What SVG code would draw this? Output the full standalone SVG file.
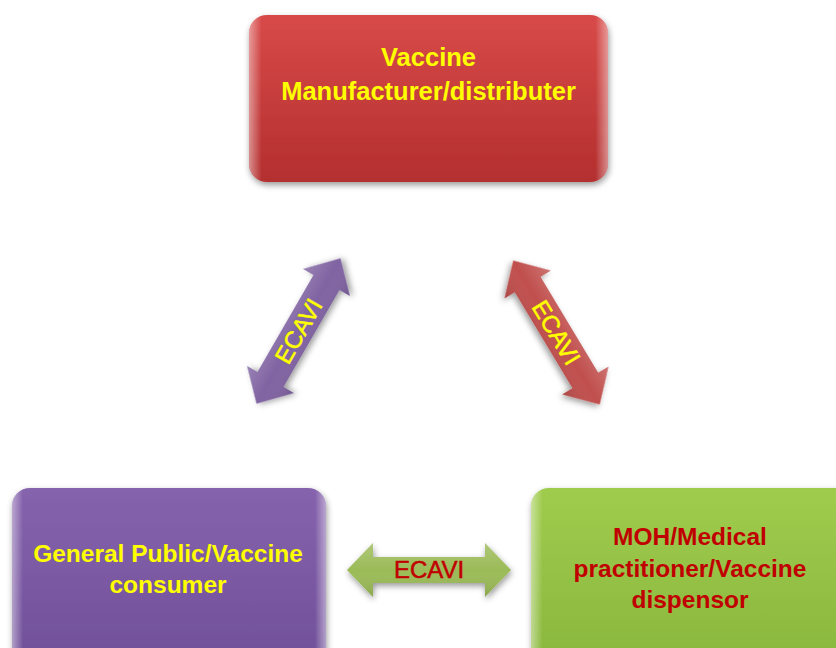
<svg xmlns="http://www.w3.org/2000/svg" width="836" height="648" viewBox="0 0 836 648">
<defs>
<filter id="sh" x="-20%" y="-20%" width="140%" height="150%">
<feDropShadow dx="1" dy="3" stdDeviation="3" flood-color="#000" flood-opacity="0.4"/>
</filter>
<linearGradient id="gRed" x1="0" y1="0" x2="0" y2="1">
<stop offset="0" stop-color="#d84a49"/><stop offset="1" stop-color="#b42f2f"/>
</linearGradient>
<linearGradient id="gPur" x1="0" y1="0" x2="0" y2="1">
<stop offset="0" stop-color="#8663ad"/><stop offset="1" stop-color="#6f4f98"/>
</linearGradient>
<linearGradient id="gGrn" x1="0" y1="0" x2="0" y2="1">
<stop offset="0" stop-color="#a0cc4e"/><stop offset="1" stop-color="#88b63c"/>
</linearGradient>
<linearGradient id="gEdge" x1="0" y1="0" x2="1" y2="0">
<stop offset="0" stop-color="#fff" stop-opacity="0.45"/>
<stop offset="0.035" stop-color="#fff" stop-opacity="0"/>
<stop offset="0.965" stop-color="#fff" stop-opacity="0"/>
<stop offset="1" stop-color="#fff" stop-opacity="0.45"/>
</linearGradient>
<linearGradient id="gArrow" x1="0" y1="0" x2="0" y2="1">
<stop offset="0" stop-color="#fff" stop-opacity="0.2"/>
<stop offset="0.5" stop-color="#fff" stop-opacity="0"/>
<stop offset="1" stop-color="#000" stop-opacity="0.12"/>
</linearGradient>
<path id="dbl" d="M-84,0 L-56,-27 L-56,-15 L56,-15 L56,-27 L84,0 L56,27 L56,15 L-56,15 L-56,27 Z"/>
<path id="dblg" d="M-82,0 L-56,-27 L-56,-13 L56,-13 L56,-27 L82,0 L56,27 L56,13 L-56,13 L-56,27 Z"/>
</defs>
<style>
.lbl{font-family:"Liberation Sans",Arial,sans-serif;font-weight:bold;text-anchor:middle}
.yel{fill:#ffff00}
.red{fill:#c00000}
.arr{font-family:"Liberation Sans",Arial,sans-serif;font-size:24px;text-anchor:middle;stroke-width:0.5}
.arr.yel{stroke:#ffff00}
.arr.red{stroke:#c00000}
.edge{fill:url(#gEdge)}
</style>

<g id="connectors">
<g id="arrow-left" transform="translate(298.5,331) rotate(-60)">
<use href="#dbl" fill="#8064a2" filter="url(#sh)"/>
<use href="#dbl" fill="url(#gArrow)"/>
<text class="arr yel" x="0" y="8.5">ECAVI</text>
</g>
<g id="arrow-right" transform="translate(556.5,332.5) rotate(59)">
<use href="#dbl" fill="#c0504d" filter="url(#sh)"/>
<use href="#dbl" fill="url(#gArrow)"/>
<text class="arr yel" x="0" y="8.5">ECAVI</text>
</g>
<g id="arrow-bottom" transform="translate(429,570)">
<use href="#dblg" fill="#9bbb59" filter="url(#sh)"/>
<use href="#dblg" fill="url(#gArrow)"/>
<text class="arr red" x="0" y="8" font-size="23">ECAVI</text>
</g>
</g>

<g id="node-manufacturer">
<rect x="249" y="15" width="359" height="167" rx="18" fill="url(#gRed)" filter="url(#sh)"/>
<rect x="249" y="15" width="359" height="167" rx="18" class="edge"/>
<text class="lbl yel" font-size="25.5" x="428.5" y="66">Vaccine</text>
<text class="lbl yel" font-size="25.5" x="428.5" y="100">Manufacturer/distributer</text>
</g>

<g id="node-public">
<rect x="12" y="488" width="314" height="185" rx="18" fill="url(#gPur)" filter="url(#sh)"/>
<rect x="12" y="488" width="314" height="185" rx="18" class="edge"/>
<text class="lbl yel" font-size="24.5" x="168" y="562">General Public/Vaccine</text>
<text class="lbl yel" font-size="24.5" x="168" y="593">consumer</text>
</g>

<g id="node-moh">
<rect x="531" y="488" width="330" height="185" rx="18" fill="url(#gGrn)" filter="url(#sh)"/>
<rect x="531" y="488" width="330" height="185" rx="18" class="edge"/>
<text class="lbl red" font-size="24.5" x="690" y="545">MOH/Medical</text>
<text class="lbl red" font-size="24.5" x="690" y="577">practitioner/Vaccine</text>
<text class="lbl red" font-size="24.5" x="690" y="608">dispensor</text>
</g>
</svg>
